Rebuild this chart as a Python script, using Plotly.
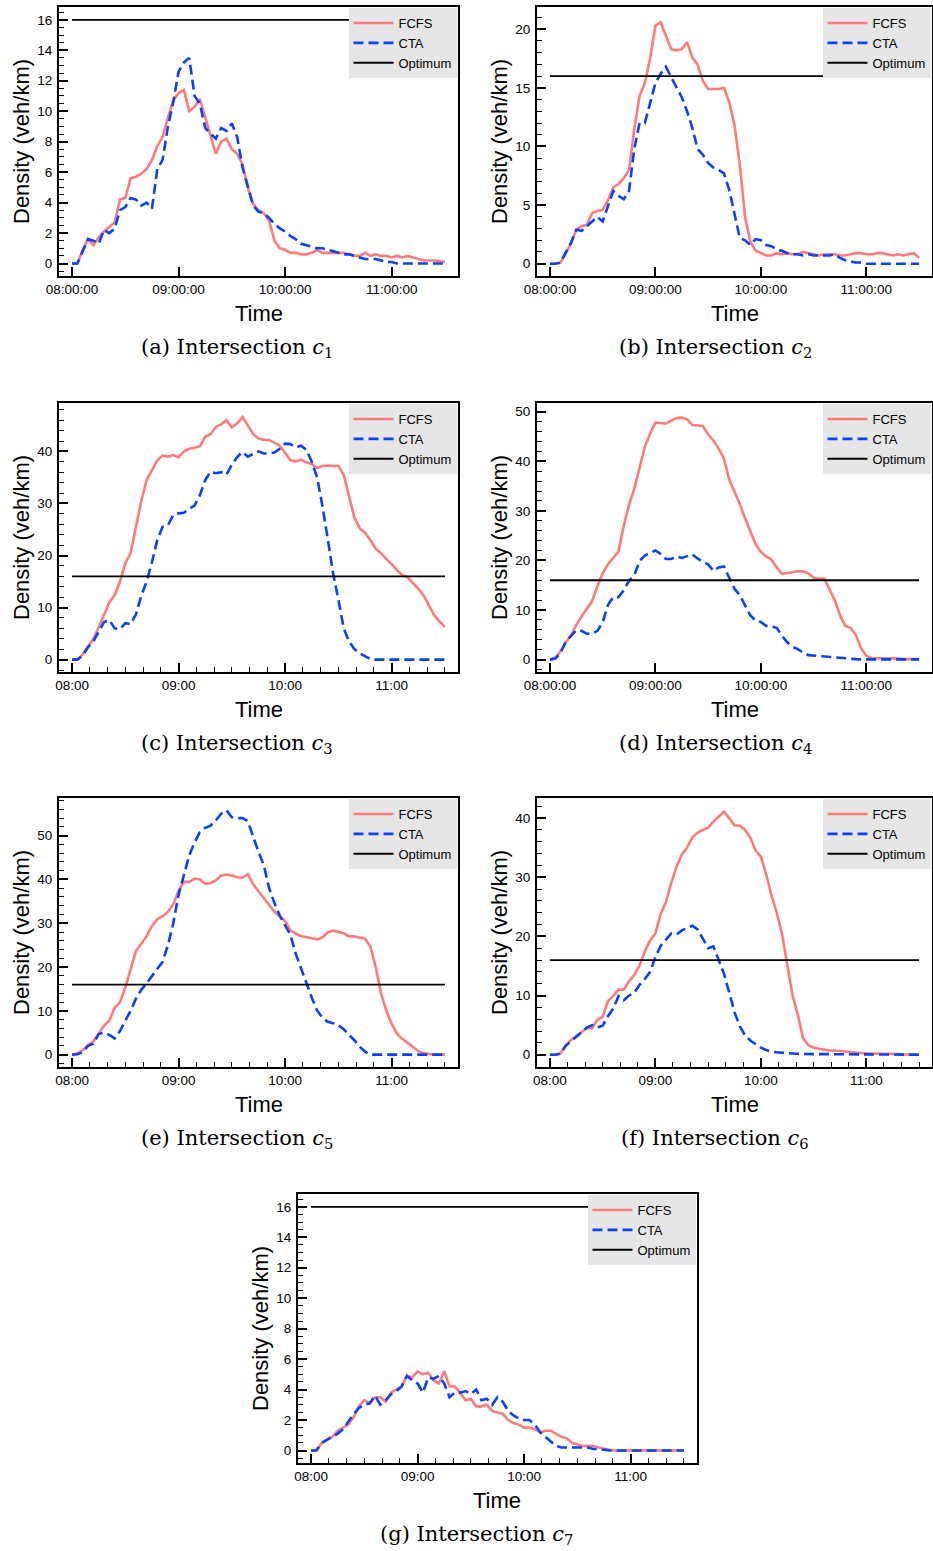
import pandas as pd
import plotly.graph_objects as go

# ---------------- data (minutes after 08:00, density in veh/km) ----------------
START = "2021-06-01 08:00:00"
MINUTES = list(range(0, 211, 3))
OPTIMUM = 16
SERIES = ["FCFS", "CTA", "Optimum"]

FCFS_A = [0, 0, 0.9, 1.6, 1.2, 1.7, 2.1, 2.4, 2.7, 4.2,
          4.3, 5.6, 5.7, 5.9, 6.2, 6.8, 7.7, 8.3, 9.6, 10.7,
          11.2, 11.4, 10.0, 10.3, 10.8, 9.6, 8.4, 7.2, 8.0, 8.2,
          7.5, 7.2, 6.5, 5.0, 3.9, 3.5, 3.3, 2.8, 1.5, 1.0,
          0.9, 0.7, 0.7, 0.6, 0.6, 0.7, 0.9, 0.7, 0.7, 0.7,
          0.7, 0.7, 0.6, 0.5, 0.5, 0.7, 0.5, 0.6, 0.5, 0.5,
          0.4, 0.5, 0.4, 0.5, 0.4, 0.3, 0.2, 0.2, 0.2, 0.15,
          0.1]
CTA_A = [0, 0, 0.8, 1.6, 1.5, 1.3, 2.2, 2.0, 2.3, 3.5,
         3.7, 4.3, 4.2, 3.8, 4.0, 3.6, 6.2, 6.8, 9.0, 10.6,
         12.6, 13.2, 13.5, 11.0, 10.5, 8.9, 8.5, 8.2, 8.9, 8.7,
         9.2, 8.3, 6.3, 5.0, 3.8, 3.4, 3.3, 3.0, 2.6, 2.3,
         2.1, 1.8, 1.6, 1.3, 1.2, 1.1, 1.0, 1.0, 0.9, 0.8,
         0.7, 0.6, 0.6, 0.5, 0.4, 0.3, 0.3, 0.3, 0.2, 0.1,
         0.1, 0, 0, 0, 0, 0, 0, 0, 0, 0,
         0]

FCFS_B = [0, 0, 0.1, 0.9, 1.7, 2.9, 3.2, 3.3, 4.3, 4.5,
          4.6, 5.4, 6.5, 6.8, 7.3, 8.0, 11.5, 14.3, 15.4, 17.5,
          20.3, 20.6, 19.5, 18.3, 18.2, 18.3, 18.9, 17.6, 17.0, 15.6,
          14.9, 14.9, 14.9, 15.0, 13.8, 11.8, 8.5, 4.0, 1.9, 1.1,
          0.9, 0.7, 0.7, 0.9, 0.8, 0.9, 0.8, 0.8, 1.0, 0.9,
          0.8, 0.7, 0.8, 0.8, 0.8, 0.7, 0.7, 0.8, 0.9, 0.9,
          0.8, 0.8, 0.9, 0.9, 0.8, 0.7, 0.8, 0.7, 0.8, 0.9,
          0.5]
CTA_B = [0, 0, 0.1, 0.9, 1.8, 2.9, 2.8, 3.2, 3.6, 4.0,
         3.6, 4.9, 6.2, 5.8, 5.5, 6.2, 9.8, 12.0, 12.0, 13.7,
         15.4, 16.2, 16.8, 15.9, 15.0, 14.2, 13.0, 11.6, 9.8, 9.3,
         8.6, 8.2, 8.0, 7.7, 6.3, 4.3, 2.2, 2.0, 1.6, 2.1,
         2.0, 1.6, 1.5, 1.2, 1.1, 0.9, 0.8, 0.8, 0.7, 0.8,
         0.7, 0.7, 0.7, 0.7, 0.8, 0.5, 0.3, 0.2, 0.1, 0.1,
         0, 0, 0, 0, 0, 0, 0, 0, 0, 0,
         0]

FCFS_C = [0, 0, 1.0, 2.6, 4.0, 6.2, 8.5, 11.0, 12.4, 15.0,
          18.5, 20.5, 25.5, 30.5, 34.5, 36.3, 38.3, 39.2, 39.0, 39.3,
          38.9, 40.0, 40.5, 40.7, 41.0, 42.8, 43.3, 44.7, 45.2, 46.0,
          44.6, 45.4, 46.6, 45.0, 43.3, 42.5, 42.2, 42.2, 41.6, 41.1,
          39.7, 38.3, 38.1, 38.4, 37.9, 37.6, 36.8, 37.2, 37.3, 37.3,
          37.2, 35.5, 31.5, 27.3, 25.2, 24.4, 23.0, 21.3, 20.4, 19.3,
          18.3, 17.2, 16.2, 15.8, 14.8, 13.6, 12.3, 10.3, 8.5, 7.3,
          6.3]
CTA_C = [0, 0, 0.8, 2.4, 3.5, 5.5, 7.2, 7.6, 6.0, 5.9,
         7.0, 6.8, 8.7, 12.3, 15.0, 18.7, 23.0, 25.5, 25.8, 27.8,
         28.1, 28.2, 29.0, 29.6, 31.6, 34.5, 36.1, 35.8, 36.0, 35.5,
         37.5, 38.9, 39.9, 39.0, 39.5, 40.0, 39.6, 39.6, 39.8, 40.5,
         41.5, 41.4, 40.8, 41.1, 40.3, 38.0, 35.0, 29.5, 23.2, 16.6,
         11.5, 6.0, 3.5, 2.0, 1.2, 0.6, 0.1, 0, 0, 0,
         0, 0, 0, 0, 0, 0, 0, 0, 0, 0,
         0]

FCFS_D = [0, 0.3, 1.7, 3.5, 4.8, 7.0, 8.7, 10.2, 11.8, 14.8,
          17.4, 19.2, 20.4, 21.8, 27.0, 31.2, 34.5, 39.0, 42.9, 45.6,
          47.8, 47.7, 47.6, 48.2, 48.7, 48.8, 48.5, 47.3, 47.2, 47.1,
          45.4, 44.2, 42.6, 40.5, 36.3, 34.0, 31.4, 28.5, 25.7, 23.3,
          21.7, 20.8, 20.2, 18.6, 17.3, 17.4, 17.6, 17.8, 17.8, 17.4,
          16.5, 16.3, 16.4, 14.2, 12.0, 9.0, 6.8, 6.4, 5.0, 2.3,
          0.8, 0.3, 0.3, 0.3, 0.3, 0.2, 0.2, 0.1, 0.1, 0.1,
          0.1]
CTA_D = [0, 0.2, 1.3, 3.6, 4.8, 5.9, 5.8, 5.2, 5.2, 5.8,
         7.5, 11.0, 12.6, 12.6, 14.0, 15.9, 17.0, 19.9, 21.0, 21.5,
         22.0, 21.3, 20.3, 20.3, 20.8, 20.5, 20.8, 21.2, 20.4, 19.7,
         19.2, 17.9, 18.6, 18.8, 16.5, 14.3, 13.0, 11.0, 8.9, 7.9,
         7.6, 6.8, 6.7, 6.4, 4.8, 3.5, 2.6, 2.1, 1.4, 0.9,
         0.8, 0.8, 0.7, 0.5, 0.4, 0.3, 0.2, 0.15, 0.1, 0.05,
         0.05, 0.05, 0.05, 0.05, 0.05, 0.05, 0.05, 0.05, 0.05, 0.05,
         0.05]

FCFS_E = [0, 0.3, 1.0, 2.2, 3.0, 4.8, 6.6, 7.8, 10.7, 12.0,
          15.3, 19.5, 23.7, 25.3, 27.0, 29.4, 30.9, 31.6, 32.6, 34.3,
          37.4, 39.5, 39.4, 40.2, 40.0, 39.0, 39.2, 39.8, 40.9, 41.1,
          40.9, 40.5, 40.4, 41.2, 38.9, 37.3, 35.8, 34.3, 32.6, 31.6,
          30.5, 28.4, 27.6, 27.1, 26.8, 26.5, 26.3, 26.8, 27.9, 28.3,
          28.0, 27.7, 27.0, 27.0, 26.7, 26.5, 24.7, 20.0, 14.0, 10.0,
          7.0, 4.8, 3.6, 2.7, 1.7, 0.8, 0.3, 0.1, 0, 0,
          0]
CTA_E = [0, 0.1, 0.6, 2.0, 2.5, 4.7, 5.0, 4.5, 3.7, 5.4,
         7.8, 10.0, 12.8, 14.8, 16.3, 18.0, 19.5, 21.2, 25.0, 30.0,
         36.5, 41.3, 45.5, 48.5, 50.8, 51.8, 52.3, 53.5, 55.0, 55.8,
         54.2, 54.0, 54.0, 53.3, 49.7, 46.3, 43.2, 38.0, 34.6, 31.7,
         29.5, 27.3, 23.0, 19.5, 16.5, 13.0, 10.1, 8.4, 7.5, 7.2,
         6.7, 5.8, 4.5, 3.3, 1.8, 0.7, 0, 0, 0, 0,
         0, 0, 0, 0, 0, 0, 0, 0, 0, 0,
         0]

FCFS_F = [0, 0, 0.2, 1.6, 2.5, 3.1, 3.8, 4.5, 4.5, 5.9,
          6.4, 9.1, 9.9, 11.0, 11.0, 12.4, 13.5, 15.1, 17.5, 19.3,
          20.5, 23.8, 25.8, 29.0, 31.8, 33.8, 35.0, 36.7, 37.5, 38.0,
          38.4, 39.4, 40.3, 41.1, 40.0, 38.8, 38.7, 38.0, 36.7, 34.5,
          33.5, 30.5, 27.0, 24.0, 20.5, 15.0, 10.0, 6.8, 2.8, 1.6,
          1.2, 1.0, 0.8, 0.7, 0.7, 0.6, 0.5, 0.4, 0.3, 0.3,
          0.2, 0.2, 0.2, 0.1, 0.1, 0.1, 0.1, 0.05, 0.05, 0.05,
          0]
CTA_F = [0, 0, 0.2, 1.5, 2.3, 3.0, 3.8, 4.6, 5.0, 4.6,
         4.9, 6.5, 7.8, 9.9, 9.2, 10.0, 10.5, 11.8, 12.8, 14.0,
         16.5, 18.4, 19.5, 20.5, 20.3, 21.0, 21.4, 21.8, 21.2, 19.5,
         18.0, 18.3, 16.0, 13.7, 10.5, 7.2, 4.8, 3.3, 2.4, 1.8,
         1.2, 0.8, 0.5, 0.4, 0.3, 0.2, 0.2, 0.15, 0.1, 0.1,
         0.1, 0.1, 0.1, 0.1, 0.05, 0.05, 0.05, 0.05, 0.05, 0.05,
         0, 0, 0, 0, 0, 0, 0, 0, 0, 0,
         0]

FCFS_G = [0, 0, 0.5, 0.7, 0.9, 1.3, 1.5, 1.7, 2.2, 2.9,
          3.3, 3.1, 3.5, 3.5, 3.2, 3.8, 4.0, 4.2, 4.9, 4.8,
          5.2, 5.0, 5.1, 4.6, 4.4, 5.2, 4.2, 4.2, 3.8, 3.3,
          3.4, 2.9, 2.9, 3.0, 2.6, 2.5, 2.4, 2.0, 1.8, 1.7,
          1.5, 1.5, 1.4, 1.2, 1.3, 1.3, 1.1, 0.9, 0.8, 0.5,
          0.4, 0.3, 0.3, 0.3, 0.2, 0.1, 0.05, 0, 0, 0,
          0, 0, 0, 0, 0, 0, 0, 0, 0, 0,
          0]
CTA_G = [0, 0, 0.5, 0.7, 0.9, 1.1, 1.4, 1.9, 2.4, 2.8,
         3.0, 3.1, 3.6, 3.0, 3.3, 3.7, 3.9, 4.2, 4.9, 4.6,
         4.4, 3.8, 4.8, 4.7, 4.9, 4.4, 3.5, 3.8, 3.8, 3.9,
         3.7, 4.0, 3.3, 3.4, 3.0, 3.5, 3.2, 2.6, 2.3, 2.1,
         2.0, 2.0, 1.7, 1.2, 0.9, 0.6, 0.3, 0.2, 0.2, 0.2,
         0.2, 0.2, 0.2, 0.1, 0.1, 0.05, 0, 0, 0, 0,
         0, 0, 0, 0, 0, 0, 0, 0, 0, 0,
         0]

PANEL_KEYS = ["a", "b", "c", "d", "e", "f", "g"]
FCFS = dict(a=FCFS_A, b=FCFS_B, c=FCFS_C, d=FCFS_D, e=FCFS_E, f=FCFS_F, g=FCFS_G)
CTA = dict(a=CTA_A, b=CTA_B, c=CTA_C, d=CTA_D, e=CTA_E, f=CTA_F, g=CTA_G)
Y_RANGE = dict(a=[-0.82, 16.84], b=[-1.05, 21.9], c=[-2.38, 49.3], d=[-2.5, 51.75],
               e=[-2.82, 58.6], f=[-2.08, 43.4], g=[-0.82, 16.84])
Y_DTICK = dict(a=2, b=5, c=10, d=10, e=10, f=10, g=2)
Y_MINOR = dict(a=0.5, b=1, c=2, d=2, e=2, f=2, g=0.5)
X_FMT = dict(a="%H:%M:%S", b="%H:%M:%S", c="%H:%M", d="%H:%M:%S",
             e="%H:%M", f="%H:%M", g="%H:%M")
X_MINOR = dict(a=False, b=False, c=True, d=False, e=True, f=True, g=True)

# ---------------- layout geometry (pixels) ----------------
W, H = 933, 1551
BOX = dict(a=(59, 458, 7, 276), b=(537, 932, 7, 276),
           c=(59, 458, 403, 672), d=(537, 932, 403, 672),
           e=(59, 458, 798, 1067), f=(537, 932, 798, 1067),
           g=(298, 697, 1194, 1463))

SANS = "Liberation Sans, Arial, Helvetica, sans-serif"
SERIF = "DejaVu Serif, serif"
RED = "#ff7a7a"
BLUE = "#0a40ff"

t0 = pd.Timestamp(START)
times = t0 + pd.to_timedelta(MINUTES, unit="min")
x_lo = (t0 - pd.Timedelta(minutes=7.35)).strftime("%Y-%m-%d %H:%M:%S")
x_hi = (t0 + pd.Timedelta(minutes=217.35)).strftime("%Y-%m-%d %H:%M:%S")

fig = go.Figure()
annotations = []
layout = dict(width=W, height=H, margin=dict(l=0, r=0, t=0, b=0, pad=0, autoexpand=False),
              paper_bgcolor="white", plot_bgcolor="white",
              font=dict(family=SANS, color="black", size=13.5))

for i, k in enumerate(PANEL_KEYS, start=1):
    x0, x1, y0, y1 = BOX[k]
    xa = "x" if i == 1 else f"x{i}"
    ya = "y" if i == 1 else f"y{i}"
    lg = "legend" if i == 1 else f"legend{i}"

    fig.add_trace(go.Scatter(x=times, y=FCFS[k], mode="lines", name=SERIES[0],
                             line=dict(color=RED, width=2.6),
                             xaxis=xa, yaxis=ya, legend=lg))
    fig.add_trace(go.Scatter(x=times, y=CTA[k], mode="lines", name=SERIES[1],
                             line=dict(color=BLUE, width=2.6, dash="10px,5px"),
                             xaxis=xa, yaxis=ya, legend=lg))
    fig.add_trace(go.Scatter(x=[times[0], times[-1]], y=[OPTIMUM, OPTIMUM], mode="lines",
                             name=SERIES[2], line=dict(color="black", width=1.8),
                             xaxis=xa, yaxis=ya, legend=lg))

    xkey = "xaxis" if i == 1 else f"xaxis{i}"
    ykey = "yaxis" if i == 1 else f"yaxis{i}"
    xaxis = dict(domain=[x0 / W, x1 / W], anchor=ya, type="date", automargin=False,
                 range=[x_lo, x_hi], tick0=START, dtick=3600000,
                 tickformat=X_FMT[k], ticks="inside", ticklen=9, tickwidth=1.5,
                 tickcolor="black", showline=True, linewidth=2, linecolor="black",
                 mirror=True, showgrid=False, zeroline=False,
                 tickfont=dict(family=SANS, size=13.5, color="black"),
                 ticklabelstandoff=0)
    if X_MINOR[k]:
        xaxis["minor"] = dict(dtick=600000, ticks="inside", ticklen=5, tickwidth=1.2,
                              tickcolor="black", showgrid=False)
    yaxis = dict(domain=[1 - y1 / H, 1 - y0 / H], anchor=xa, automargin=False,
                 range=Y_RANGE[k], dtick=Y_DTICK[k], tick0=0,
                 ticks="inside", ticklen=9, tickwidth=1.5, tickcolor="black",
                 minor=dict(dtick=Y_MINOR[k], ticks="inside", ticklen=4.5,
                            tickwidth=1.2, tickcolor="black", showgrid=False),
                 showline=True, linewidth=2, linecolor="black", mirror=True,
                 showgrid=False, zeroline=False,
                 tickfont=dict(family=SANS, size=13.5, color="black"),
                 ticklabelstandoff=2)
    layout[xkey] = xaxis
    layout[ykey] = yaxis
    layout[lg] = dict(x=(x1 - 1.5) / W, y=1 - (y0 + 1) / H, xanchor="right", yanchor="top",
                      bgcolor="#e6e6e6", borderwidth=0, tracegroupgap=0, itemwidth=40,
                      font=dict(family=SANS, size=13, color="black"))

    annotations.append(dict(text="Time", x=(x0 + x1) / 2 / W, y=1 - (y1 + 37) / H,
                            xref="paper", yref="paper", xanchor="center", yanchor="middle",
                            showarrow=False, font=dict(family=SANS, size=22, color="black")))
    annotations.append(dict(text="Density (veh/km)", x=(x0 - 37.5) / W,
                            y=1 - (y0 + y1) / 2 / H, xref="paper", yref="paper",
                            xanchor="center", yanchor="middle", textangle=-90,
                            showarrow=False, font=dict(family=SANS, size=22, color="black")))
    annotations.append(dict(text=f"({k}) Intersection <i>c</i><sub>{i}</sub>",
                            x=(x0 + 178) / W, y=1 - (y1 + 72) / H,
                            xref="paper", yref="paper", xanchor="center", yanchor="middle",
                            showarrow=False, font=dict(family=SERIF, size=21, color="black")))

layout["annotations"] = annotations
fig.update_layout(**layout)
fig.write_html("out.html")
